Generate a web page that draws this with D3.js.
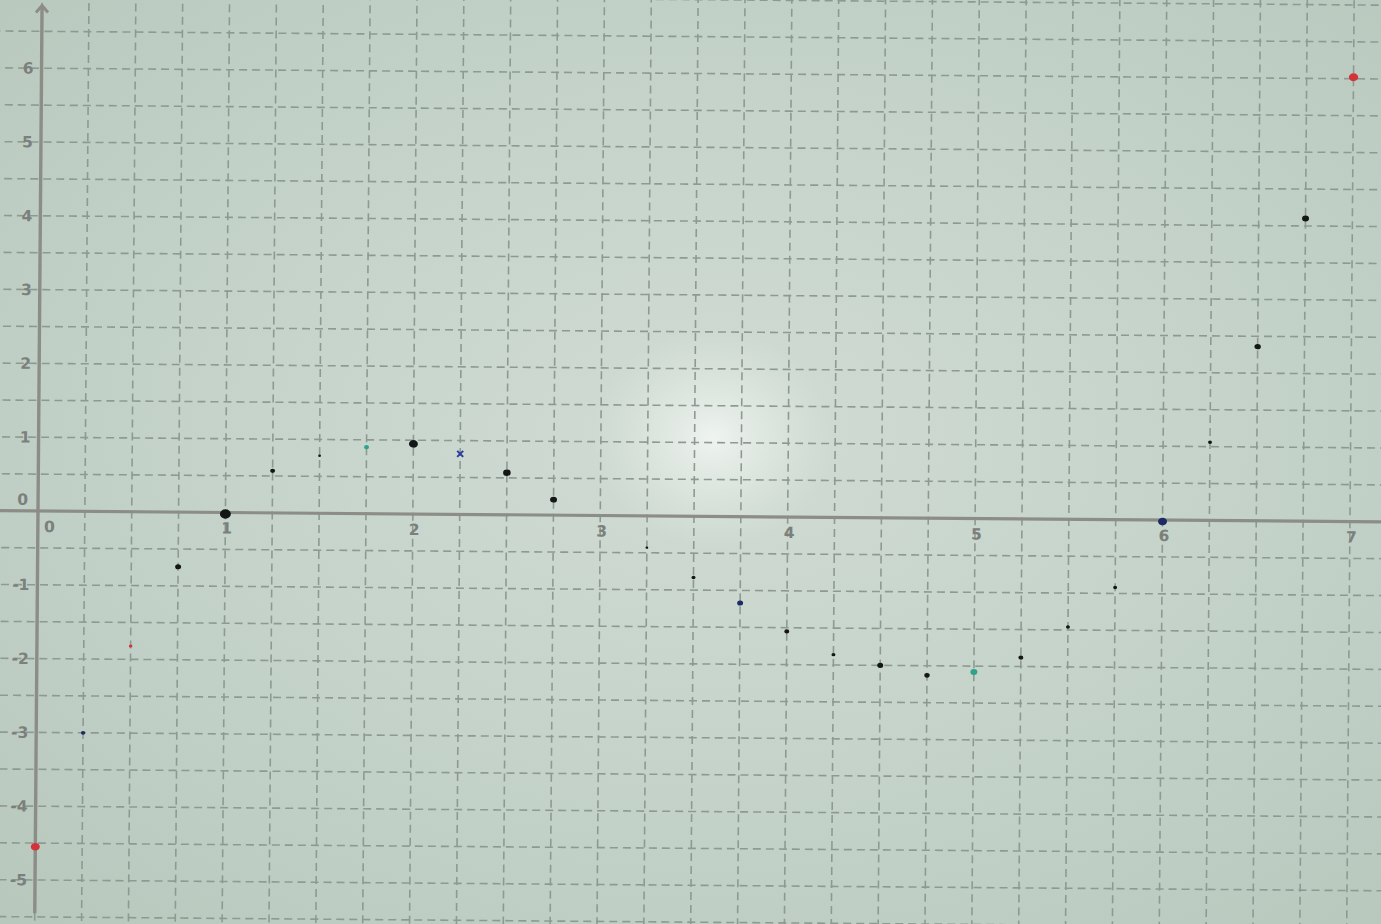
<!DOCTYPE html>
<html>
<head>
<meta charset="utf-8">
<script src="https://cdn.jsdelivr.net/npm/d3@7"></script>
<style>
  html, body { margin: 0; padding: 0; background: #c3d2c8; overflow: hidden; }
  svg { display: block; }
</style>
</head>
<body>
<svg id="chart" width="1381" height="924"></svg>
<script>
// ---- data ----
const xValues  = [0, 0.25, 0.5, 0.75, 1, 1.25, 1.5, 1.75, 2, 2.25, 2.5, 2.75, 3.25, 3.5, 3.75, 4, 4.25, 4.5, 4.75, 5, 5.25, 5.5, 5.75, 6, 6.25, 6.5, 6.75, 7];
const yValues  = [-4.55, -3.0, -1.82, -0.74, -0.02, 0.57, 0.78, 0.9, 0.95, 0.82, 0.57, 0.21, -0.43, -0.83, -1.17, -1.55, -1.86, -2.0, -2.13, -2.08, -1.88, -1.46, -0.92, -0.02, 1.06, 2.36, 4.1, 6.02];
const pointInk = ["red", "navy", "red", "black", "black", "black", "black", "teal", "black", "blue", "black", "black", "black", "black", "navy", "black", "black", "black", "black", "teal", "black", "black", "black", "navy", "black", "black", "black", "red"];
const pointSize = [4.5, 2.2, 1.8, 3, 5.5, 2.5, 1.4, 2.5, 4.5, 3, 3.8, 3.5, 1.4, 2, 3, 2.5, 2, 3, 2.7, 3.5, 2.5, 2, 2, 4.5, 2, 3.2, 3.5, 4.7];
const xTickLabels = ["0", "1", "2", "3", "4", "5", "6", "7"];
const yTickLabels = ["-5", "-4", "-3", "-2", "-1", "0", "1", "2", "3", "4", "5", "6"];

const inkColor = { red: "#d3343a", navy: "#1d2a66", black: "#141716", teal: "#2aa58c", blue: "#2c3c9c" };

const W = 1381, H = 924;
const svg = d3.select("#chart");

// background with a light glare
const defs = svg.append("defs");
const bg = defs.append("radialGradient").attr("id", "bg").attr("cx", "52%").attr("cy", "47%").attr("r", "75%");
bg.append("stop").attr("offset", "0%").attr("stop-color", "#d1dcd4");
bg.append("stop").attr("offset", "60%").attr("stop-color", "#c2d1c7");
bg.append("stop").attr("offset", "100%").attr("stop-color", "#b7c7bc");
const glare = defs.append("radialGradient").attr("id", "glare");
glare.append("stop").attr("offset", "0%").attr("stop-color", "#f4f8f5").attr("stop-opacity", 0.85);
glare.append("stop").attr("offset", "45%").attr("stop-color", "#eef3ef").attr("stop-opacity", 0.45);
glare.append("stop").attr("offset", "100%").attr("stop-color", "#e6ede8").attr("stop-opacity", 0);

svg.append("rect").attr("width", W).attr("height", H).attr("fill", "url(#bg)");
svg.append("ellipse").attr("cx", 713).attr("cy", 438).attr("rx", 120).attr("ry", 110).attr("fill", "url(#glare)");

// scales (photo is slightly rotated -> rotate the plot group)
const x = d3.scaleLinear().domain([0, 7]).range([38, 38 + 1312]);
const y = d3.scaleLinear().domain([0, 1]).range([511, 511 - 73.8]);
const g = svg.append("g").attr("transform", `rotate(0.46, ${x(0)}, ${y(0)})`);

const gridColor = "#8d9a92";
const xGrid = d3.range(-0.5, 7.76, 0.25);
const yGrid = d3.range(-6, 7.01, 0.5);

g.append("g").selectAll("line").data(xGrid).join("line")
  .attr("x1", d => x(d)).attr("x2", d => x(d))
  .attr("y1", y(7.2)).attr("y2", y(-6.2))
  .attr("stroke", gridColor).attr("stroke-width", 1.6)
  .attr("stroke-dasharray", "8,5").attr("stroke-dashoffset", 3);

g.append("g").selectAll("line").data(yGrid).join("line")
  .attr("x1", x(-0.6)).attr("x2", x(7.6))
  .attr("y1", d => y(d)).attr("y2", d => y(d))
  .attr("stroke", gridColor).attr("stroke-width", 1.6)
  .attr("stroke-dasharray", "8,5").attr("stroke-dashoffset", 2);

// axes
const axisColor = "#8c8d86";
g.append("line").attr("x1", x(-0.6)).attr("x2", x(7.6)).attr("y1", y(0)).attr("y2", y(0))
  .attr("stroke", axisColor).attr("stroke-width", 3.2);
g.append("line").attr("x1", x(0)).attr("x2", x(0)).attr("y1", y(6.85)).attr("y2", y(-5.45))
  .attr("stroke", axisColor).attr("stroke-width", 3.4);
// arrow head at top of y axis
g.append("path")
  .attr("d", d3.line()([[x(0) - 6, y(6.85) + 7], [x(0), y(6.85)], [x(0) + 6, y(6.85) + 7]]))
  .attr("fill", "none").attr("stroke", axisColor).attr("stroke-width", 3);

// tick labels
const labelColor = "#7b807c";
const xAxis = d3.axisBottom(x).tickValues(xTickLabels.map(Number)).tickSize(0).tickPadding(10)
  .tickFormat((d, i) => xTickLabels[i]);
const xa = g.append("g").attr("transform", `translate(0, ${y(0)})`).call(xAxis);
xa.select(".domain").remove();
xa.selectAll("text").attr("fill", labelColor).attr("font-family", "DejaVu Sans, sans-serif")
  .attr("font-size", 15.5).attr("font-weight", "bold")
  .attr("dx", d => d === 0 ? 11 : 1);

const yLabelVals = yTickLabels.map(Number).filter(v => v !== 0);
const yAxis = d3.axisLeft(y).tickValues(yLabelVals).tickSize(0).tickPadding(8)
  .tickFormat(d => yTickLabels[yTickLabels.indexOf(String(d))]);
const ya = g.append("g").attr("transform", `translate(${x(0)}, 0)`).call(yAxis);
ya.select(".domain").remove();
ya.selectAll("text").attr("fill", labelColor).attr("font-family", "DejaVu Sans, sans-serif")
  .attr("font-size", 15.5).attr("font-weight", "bold");
// "0" on the y axis sits above the x axis
g.append("text").attr("x", x(0) - 10).attr("y", y(0) - 6).attr("text-anchor", "end")
  .attr("fill", labelColor).attr("font-family", "DejaVu Sans, sans-serif")
  .attr("font-size", 15.5).attr("font-weight", "bold").text(yTickLabels[yTickLabels.indexOf("0")]);

// points
const pts = xValues.map((v, i) => ({ x: v, y: yValues[i], c: inkColor[pointInk[i]], r: pointSize[i], cross: pointInk[i] === "blue" }));
g.append("g").selectAll("ellipse").data(pts.filter(p => !p.cross)).join("ellipse")
  .attr("cx", d => x(d.x)).attr("cy", d => y(d.y))
  .attr("rx", d => d.r).attr("ry", d => d.r * 0.85)
  .attr("fill", d => d.c);
g.append("g").selectAll("path").data(pts.filter(p => p.cross)).join("path")
  .attr("d", d => `M${x(d.x) - d.r},${y(d.y) - d.r}L${x(d.x) + d.r},${y(d.y) + d.r}M${x(d.x) + d.r},${y(d.y) - d.r}L${x(d.x) - d.r},${y(d.y) + d.r}`)
  .attr("stroke", d => d.c).attr("stroke-width", 2);
</script>
</body>
</html>
